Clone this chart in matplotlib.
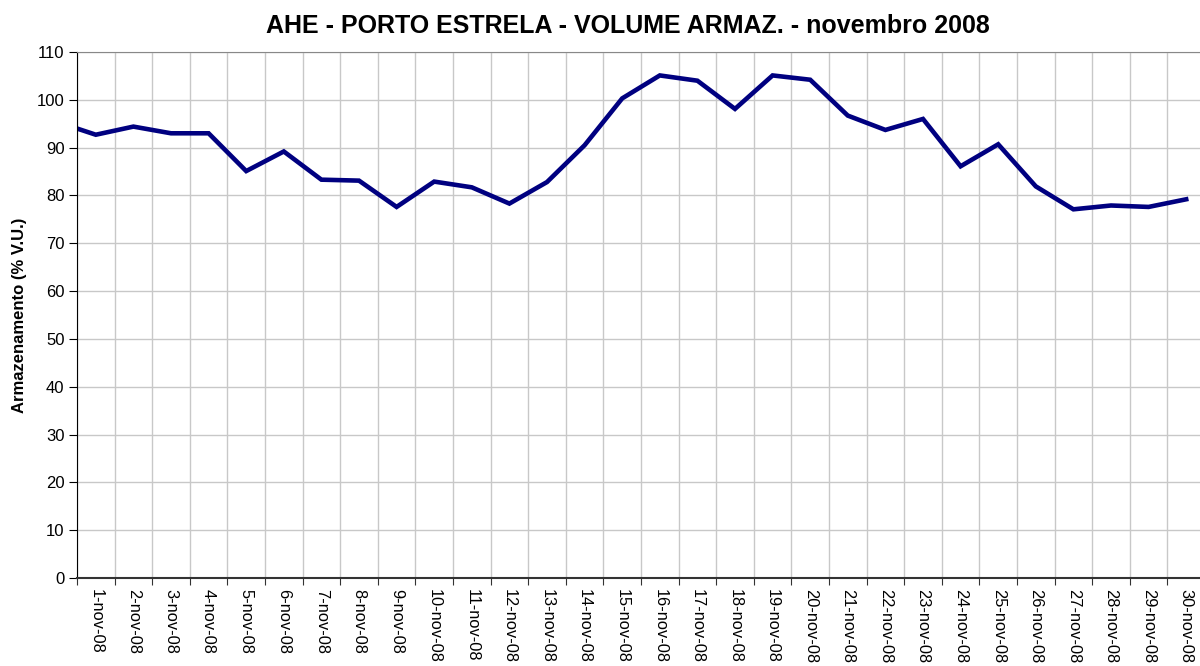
import matplotlib.pyplot as plt
import numpy as np

# dados de armazenamento - novembro 2008 (% V.U.)
# o primeiro valor (31-out) so aparece cortado na borda esquerda
valor_anterior = 95.3
dias = [f"{d}-nov-08" for d in range(1, 31)]
armazenamento = [92.7, 94.4, 93.0, 93.0, 85.1, 89.2, 83.3, 83.1, 77.6, 82.9,
                 81.7, 78.3, 82.8, 90.5, 100.3, 105.1, 104.0, 98.1, 105.1, 104.2,
                 96.7, 93.7, 96.0, 86.1, 90.7, 81.9, 77.1, 77.9, 77.6, 79.2]

plt.rcParams['font.family'] = ['Liberation Sans', 'DejaVu Sans']

fig = plt.figure(figsize=(12, 6.66), dpi=100)
# eixo vai alem da borda direita, como no original
ax = fig.add_axes([77 / 1200, 1 - 578 / 666, 1128 / 1200, 526 / 666])

x = np.arange(-1, len(dias))
y = [valor_anterior] + armazenamento
ax.plot(x, y, color='#000080', lw=3.3, solid_joinstyle='miter', clip_on=True)

ax.set_xlim(-0.5, len(dias) - 0.5)
ax.set_ylim(0, 110)
ax.set_yticks(range(0, 111, 10))
ax.set_xticks(np.arange(len(dias) + 1) - 0.5)
ax.set_xticklabels([])
ax.set_xticks(np.arange(len(dias)), minor=True)
ax.set_xticklabels(dias, minor=True, rotation=270, fontsize=11.8, va='top', ha='center')
ax.tick_params(axis='x', which='minor', length=0, pad=8)
ax.tick_params(axis='x', which='major', length=5, direction='out', color='#333333')
ax.tick_params(axis='y', length=6, direction='out', labelsize=12, pad=3)

ax.grid(True, which='major', color='#c8c8c8', lw=1)
ax.set_axisbelow(True)
ax.spines['left'].set_color('black')
ax.spines['bottom'].set_color('#333333')
ax.spines['bottom'].set_linewidth(1.5)
ax.spines['top'].set_color('#888888')
ax.spines['right'].set_visible(False)

ax.set_ylabel('Armazenamento (% V.U.)', fontsize=12, fontweight='bold', labelpad=7)
fig.text(628 / 1200, 1 - 26 / 666, 'AHE - PORTO ESTRELA - VOLUME ARMAZ. - novembro 2008',
         ha='center', va='center', fontsize=18, fontweight='bold')

fig.savefig('out.png', dpi=100)
